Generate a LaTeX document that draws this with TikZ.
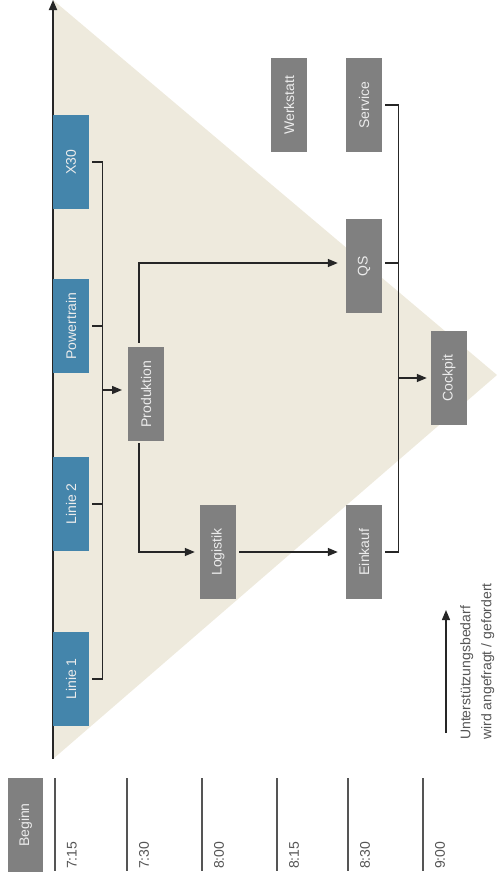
\documentclass[tikz,border=0pt]{standalone}
\usepackage{fontspec}
\setmainfont{Liberation Sans}
\usetikzlibrary{arrows.meta}
\definecolor{linieblue}{RGB}{68,133,171}
\definecolor{boxgray}{RGB}{128,128,128}
\definecolor{sand}{RGB}{238,234,221}
\definecolor{boxtext}{RGB}{236,236,236}
\definecolor{timegray}{RGB}{85,85,85}

\begin{document}
\begin{tikzpicture}[x=1pt,y=-1pt,
  line/.style={line width=1.4pt, draw=black!85},
  arr/.style={line, -{Triangle[length=10pt,width=8pt]}},
  bluebox/.style={fill=linieblue, minimum width=36pt, minimum height=94pt, inner sep=0pt,
    text=boxtext, font=\fontsize{14}{17}\selectfont},
  graybox/.style={bluebox, fill=boxgray}]
  \useasboundingbox (0,0) rectangle (497,884);
  % background triangle
  \fill[sand] (53,0) -- (497,375) -- (53,759) -- cycle;
  % axis
  \draw[arr, line width=1.8pt] (53,759) -- (53,0);
  % lines
  \node[bluebox] (x30) at (71,162) {\rotatebox{90}{X30}};
  \node[bluebox] (powertrain) at (71,326) {\rotatebox{90}{Powertrain}};
  \node[bluebox] (linie2) at (71,504) {\rotatebox{90}{Linie 2}};
  \node[bluebox] (linie1) at (71,679) {\rotatebox{90}{Linie 1}};
  % departments
  \node[graybox] (prod) at (146,394) {\rotatebox{90}{Produktion}};
  \node[graybox] (logistik) at (218,552) {\rotatebox{90}{Logistik}};
  \node[graybox] (werkstatt) at (289,105) {\rotatebox{90}{Werkstatt}};
  \node[graybox] (service) at (364,105) {\rotatebox{90}{Service}};
  \node[graybox] (qs) at (364,266) {\rotatebox{90}{QS}};
  \node[graybox] (einkauf) at (364,552) {\rotatebox{90}{Einkauf}};
  \node[graybox] (cockpit) at (449,378) {\rotatebox{90}{Cockpit}};
  % bracket of the lines
  \draw[line] ([xshift=3pt]x30.east) -- ++(10,0) |- ([xshift=3pt]linie1.east);
  \draw[line] ([xshift=3pt]powertrain.east) -- ++(10,0);
  \draw[line] ([xshift=3pt]linie2.east) -- ++(10,0);
  \coordinate (join) at (102,390);
  \draw[arr] (join) -- ++(20,0);
  % flow from Produktion
  \draw[arr] ([xshift=-7pt,yshift=4pt]prod.north) |- ([xshift=-8pt,yshift=3pt]qs.west);
  \draw[arr] ([xshift=-7pt,yshift=-2pt]prod.south) |- ([xshift=-5pt]logistik.west);
  \draw[arr] ([xshift=3pt]logistik.east) -- ([xshift=-8pt]einkauf.west);
  % bracket to Cockpit
  \draw[line] ([xshift=3pt]service.east) -- ++(13,0) |- ([xshift=3pt]einkauf.east);
  \draw[line] ([xshift=3pt,yshift=3pt]qs.east) -- ++(13,0);
  \coordinate (merge) at (398,378);
  \draw[arr] (merge) -- ([xshift=-4pt]cockpit.west);
  % legend
  \coordinate (legend) at (446,733);
  \draw[arr] (legend) -- ++(0,-123);
  \node[rotate=90, anchor=north west, align=left, inner sep=0pt, text=timegray,
    font=\fontsize{14}{21}\selectfont] (support) at (460,740)
    {Unterstützungsbedarf\\wird angefragt / gefordert};
  % time line
  \node[graybox, minimum width=35pt] (beginn) at (25.5,825) {\rotatebox{90}{Beginn}};
  \foreach \x/\t in {55/7:15, 127/7:30, 202/8:00, 277/8:15, 348/8:30, 423/9:00} {
    \draw[line width=1.3pt, timegray] (\x,778) -- (\x,871);
    \node[rotate=90, anchor=west, inner sep=0pt, text=timegray,
      font=\fontsize{14}{17}\selectfont] at (\x+17,869) {\t};
  }
\end{tikzpicture}
\end{document}
